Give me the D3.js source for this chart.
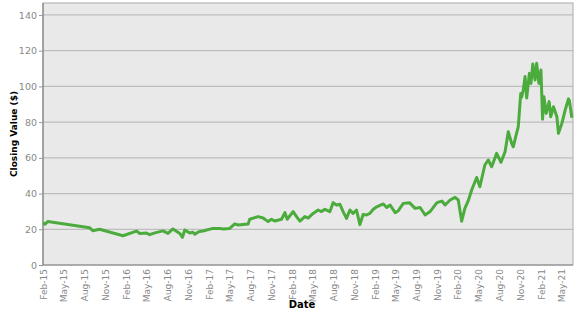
<!DOCTYPE html>
<html>
<head>
<meta charset="utf-8">
<script src="https://cdn.jsdelivr.net/npm/d3@7"></script>
<style>
  body { margin: 0; background: #fff; }
  text { font-family: "DejaVu Sans", Verdana, sans-serif; }
</style>
</head>
<body>
<svg id="chart"></svg>
<script>
// closing values
const dates = [
  "2015-02-02", "2015-02-09", "2015-02-22", "2015-08-25", "2015-09-08", "2015-10-08",
  "2016-01-19", "2016-03-18", "2016-04-02", "2016-05-01", "2016-05-16", "2016-06-07",
  "2016-07-13", "2016-08-04", "2016-08-26", "2016-09-25", "2016-10-07", "2016-10-17",
  "2016-11-08", "2016-11-22", "2016-11-30", "2016-12-14", "2016-12-21", "2017-01-05",
  "2017-02-18", "2017-03-20", "2017-04-04", "2017-05-03", "2017-05-25", "2017-06-09",
  "2017-07-23", "2017-07-30", "2017-09-05", "2017-09-27", "2017-10-19", "2017-11-03",
  "2017-11-17", "2017-12-17", "2018-01-01", "2018-01-11", "2018-02-06", "2018-02-21",
  "2018-03-08", "2018-03-30", "2018-04-13", "2018-05-05", "2018-05-27", "2018-06-11",
  "2018-06-26", "2018-07-18", "2018-08-01", "2018-08-16", "2018-08-31", "2018-09-14",
  "2018-09-29", "2018-10-14", "2018-10-28", "2018-11-12", "2018-11-27", "2018-12-11",
  "2018-12-26", "2019-01-10", "2019-01-25", "2019-02-09", "2019-02-16", "2019-03-10",
  "2019-03-25", "2019-04-09", "2019-05-01", "2019-05-15", "2019-06-06", "2019-07-03",
  "2019-07-28", "2019-08-19", "2019-09-10", "2019-10-02", "2019-11-01", "2019-11-23",
  "2019-12-07", "2019-12-29", "2020-01-20", "2020-02-03", "2020-02-18", "2020-03-03",
  "2020-03-18", "2020-04-02", "2020-04-24", "2020-05-08", "2020-05-30", "2020-06-14",
  "2020-06-29", "2020-07-21", "2020-08-09", "2020-08-27", "2020-09-10", "2020-09-25",
  "2020-10-02", "2020-10-17", "2020-10-24", "2020-11-04", "2020-11-08", "2020-11-15",
  "2020-11-23", "2020-11-30", "2020-12-12", "2020-12-19", "2020-12-27", "2021-01-06",
  "2021-01-13", "2021-01-23", "2021-02-01", "2021-02-08", "2021-02-14", "2021-02-24",
  "2021-03-09", "2021-03-16", "2021-03-28", "2021-04-12", "2021-04-19", "2021-05-04",
  "2021-05-18", "2021-06-02", "2021-06-06", "2021-06-17"
];

const closes = [
  23.7, 22.8, 24.3, 20.9, 19.2, 20.0,
  16.4, 19.0, 17.7, 17.9, 17.0, 18.0,
  19.1, 17.7, 20.2, 17.7, 15.5, 19.6,
  17.9, 18.4, 17.2, 18.4, 18.7, 19.0,
  20.5, 20.5, 20.2, 20.5, 23.0, 22.4,
  23.0, 25.6, 27.1, 26.3, 24.3, 25.6,
  24.6, 25.6, 29.3, 25.6, 29.9, 27.1,
  24.6, 27.1, 26.3, 28.9, 30.8, 29.9,
  31.2, 29.9, 34.9, 33.6, 34.0, 29.9,
  26.1, 30.8, 28.9, 30.8, 22.6, 28.3,
  28.0, 28.9, 31.2, 32.6, 33.0, 34.2,
  32.2, 33.6, 29.3, 30.4, 34.5, 34.9,
  31.7, 32.2, 28.0, 29.9, 34.9, 35.8,
  33.6, 36.4, 37.9, 36.4, 24.5, 31.7,
  36.0, 42.0, 49.0, 43.8, 56.0, 58.8,
  55.0, 62.5, 57.5, 63.4, 74.6, 68.1,
  66.2, 74.0, 77.4, 96.0, 94.0, 98.0,
  105.5, 93.5, 107.3, 101.7, 112.5, 103.6,
  112.9, 101.7, 109.2, 81.6, 94.2, 84.9,
  91.5, 83.0, 88.6, 83.0, 73.7, 79.3,
  86.5, 93.0, 92.0, 82.5
];

const yTicks = [0, 20, 40, 60, 80, 100, 120, 140];
const xStart = "2015-02-01";
const xEnd = "2021-06-22";
const yMax = 146.7;

const width = 577, height = 315;
const margin = { top: 3, right: 4, bottom: 50, left: 43 };
const innerW = width - margin.left - margin.right;
const innerH = height - margin.top - margin.bottom;

const parse = d3.timeParse("%Y-%m-%d");
const data = dates.map((d, i) => ({ date: parse(d), value: closes[i] }));

const svg = d3.select("#chart")
  .attr("width", width)
  .attr("height", height);

const xScale = d3.scaleTime()
  .domain([parse(xStart), parse(xEnd)])
  .range([0, innerW]);

const yScale = d3.scaleLinear()
  .domain([0, yMax])
  .range([innerH, 0]);

const g = svg.append("g")
  .attr("transform", `translate(${margin.left}, ${margin.top})`);

g.append("rect")
  .attr("width", innerW)
  .attr("height", innerH)
  .attr("fill", "#e9e9e9");

// gridlines
g.selectAll(".grid")
  .data(yTicks.filter(d => d > 0))
  .join("line")
  .attr("class", "grid")
  .attr("x1", 0)
  .attr("x2", innerW)
  .attr("y1", d => yScale(d))
  .attr("y2", d => yScale(d))
  .attr("stroke", "#bebebe")
  .attr("stroke-width", 1.2);

// border
g.append("rect")
  .attr("width", innerW)
  .attr("height", innerH)
  .attr("fill", "none")
  .attr("stroke", "#aaa")
  .attr("stroke-width", 1);

g.append("line")
  .attr("x1", 0).attr("x2", 0)
  .attr("y1", 0).attr("y2", innerH)
  .attr("stroke", "#777");

g.append("line")
  .attr("x1", 0).attr("x2", innerW)
  .attr("y1", innerH).attr("y2", innerH)
  .attr("stroke", "#888");

const line = d3.line()
  .x(d => xScale(d.date))
  .y(d => yScale(d.value));

g.append("path")
  .datum(data)
  .attr("fill", "none")
  .attr("stroke", "#4bab3c")
  .attr("stroke-width", 3)
  .attr("stroke-linejoin", "round")
  .attr("d", line);

// y axis
const yAxis = g.append("g")
  .call(d3.axisLeft(yScale).tickValues(yTicks).tickSize(4).tickPadding(2));
yAxis.select(".domain").remove();
yAxis.selectAll(".tick line").attr("stroke", "#999");
yAxis.selectAll(".tick text")
  .attr("fill", "#888")
  .style("font-size", "9.5px");

// x axis: every three months starting Feb-15
const xTicks = d3.timeMonth.range(parse(xStart), parse(xEnd), 3);
const xAxis = g.append("g")
  .attr("transform", `translate(0, ${innerH})`)
  .call(d3.axisBottom(xScale)
    .tickValues(xTicks)
    .tickFormat(d3.timeFormat("%b-%y"))
    .tickSize(0));
xAxis.select(".domain").remove();
xAxis.selectAll(".tick text")
  .attr("fill", "#888")
  .style("font-size", "9px")
  .attr("text-anchor", "end")
  .attr("dy", "0.35em")
  .attr("transform", "rotate(-90)")
  .attr("x", -4)
  .attr("y", 0);

// axis titles
svg.append("text")
  .attr("x", margin.left + innerW / 2 - 6)
  .attr("y", 308)
  .attr("text-anchor", "middle")
  .style("font-size", "10px")
  .style("font-weight", "bold")
  .text("Date");

svg.append("text")
  .attr("transform", `translate(17, ${margin.top + innerH / 2}) rotate(-90)`)
  .attr("text-anchor", "middle")
  .style("font-size", "9px")
  .style("font-weight", "bold")
  .text("Closing Value ($)");
</script>
</body>
</html>
